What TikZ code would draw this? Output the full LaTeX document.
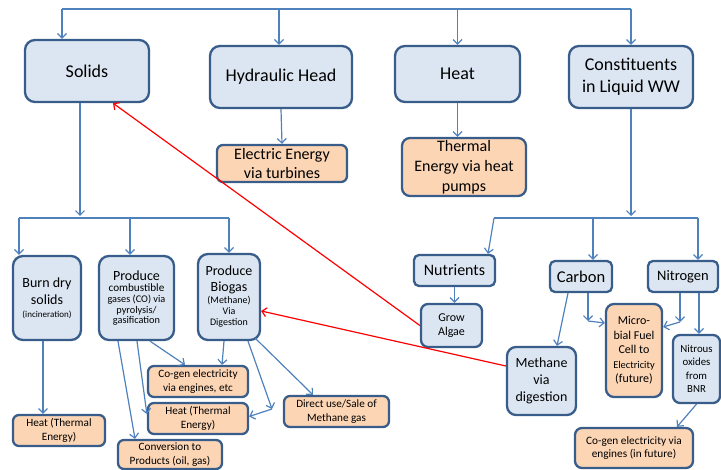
\documentclass[tikz,border=0pt]{standalone}
\usepackage{fontspec}
\setmainfont{Carlito}
\usetikzlibrary{arrows.meta}
\definecolor{boxline}{HTML}{385D8A}
\definecolor{bluefill}{HTML}{DCE6F2}
\definecolor{orangefill}{HTML}{FCD5B5}
\definecolor{connc}{HTML}{4F81BD}
\newcommand{\fs}[2]{\fontsize{#1}{#2}\selectfont}
\begin{document}
\begin{tikzpicture}[x=1pt,y=-1pt,
  basebox/.style={draw=boxline, line width=2.3pt, rounded corners=#1, align=center, inner sep=0pt, text=black},
  bluebox/.style={basebox=#1, fill=bluefill},
  bluebox/.default=10pt,
  orangebox/.style={basebox=#1, fill=orangefill},
  orangebox/.default=6pt,
  conn/.style={draw=connc, line width=1.2pt},
  arr/.style={conn, -{Straight Barb[length=4.5pt,width=9pt]}},
  redarr/.style={draw=red, line width=1.2pt, -{Straight Barb[length=4.5pt,width=9pt]}}]
\useasboundingbox (0,0) rectangle (721,470);

% top level
\node[bluebox, minimum width=124, minimum height=62, font=\fs{18}{22}] (solids) at (87,71) {Solids};
\node[bluebox, minimum width=142, minimum height=62, font=\fs{18}{22}] (hydraulic) at (281,77) {Hydraulic Head};
\node[bluebox, minimum width=125, minimum height=56, font=\fs{18}{22}] (heat) at (457.5,74) {Heat};
\node[bluebox, minimum width=124, minimum height=62, font=\fs{18}{22}] (constit) at (631,77) {Constituents\\in Liquid WW};

\node[orangebox, minimum width=130, minimum height=37, font=\fs{16}{18.5}] (electric) at (282,163.5) {Electric Energy\\via turbines};
\node[orangebox=8pt, minimum width=124, minimum height=58, font=\fs{16}{20}] (thermal) at (464,167) {Thermal\\Energy via heat\\pumps};

% solids branch
\node[bluebox, minimum width=68, minimum height=84, font=\fs{14}{17}] (burn) at (47,298) {Burn dry\\solids\\[-4pt]{\fs{9}{10}(incineration)}};
\node[bluebox, minimum width=75, minimum height=84, font=\fs{10.3}{10.6}] (combust) at (136.5,298) {{\fs{14}{16}Produce}\\[1pt]{\fs{11.2}{12}combustible}\\gases (CO) via\\pyrolysis/\\gasification};
\node[bluebox, minimum width=62, minimum height=86, font=\fs{10}{11}] (biogas) at (229,297) {{\fs{14}{16}Produce}\\[5pt]{\fs{14}{16}Biogas}\\[1pt](Methane)\\Via\\Digestion};

\node[orangebox, minimum width=92, minimum height=31, font=\fs{11.2}{13.5}] (heatL) at (59,430.5) {Heat (Thermal\\Energy)};
\node[orangebox, minimum width=100, minimum height=31, font=\fs{11.2}{13.5}] (cogen) at (198,381.5) {Co-gen electricity\\via engines, etc};
\node[orangebox, minimum width=100, minimum height=31, font=\fs{11.2}{13.5}] (heatM) at (198,418.5) {Heat (Thermal\\Energy)};
\node[orangebox, minimum width=104, minimum height=29, font=\fs{11.2}{13.5}] (conv) at (170,454.5) {Conversion to\\Products (oil, gas)};
\node[orangebox, minimum width=105, minimum height=31, font=\fs{11.2}{13.5}] (direct) at (336.5,411.5) {Direct use/Sale of\\Methane gas};

% liquid branch
\node[bluebox=5pt, minimum width=81, minimum height=31, font=\fs{16}{19}] (nutrients) at (454.5,270.5) {Nutrients};
\node[bluebox=7pt, minimum width=61, minimum height=43, font=\fs{12}{14.5}] (algae) at (451.5,325.5) {Grow\\Algae};
\node[bluebox=5pt, minimum width=62, minimum height=31, font=\fs{16.5}{19}] (carbon) at (581,276.5) {Carbon};
\node[bluebox=5pt, minimum width=70, minimum height=31, font=\fs{14.5}{17}] (nitrogen) at (683,276.5) {Nitrogen};
\node[orangebox=8pt, minimum width=56, minimum height=93, font=\fs{12}{14.5}] (microbial) at (634,350.5) {Micro-\\bial Fuel\\Cell to\\{\fs{10.4}{12}Electricity}\\(future)};
\node[bluebox=7pt, minimum width=47, minimum height=68, font=\fs{10.8}{13.5}] (nitrous) at (696.5,369) {Nitrous\\oxides\\from\\BNR};
\node[bluebox=9pt, minimum width=69, minimum height=68, font=\fs{14}{17}] (methane) at (541.5,381) {Methane\\via\\digestion};
\node[orangebox=7pt, minimum width=118, minimum height=40, font=\fs{11.3}{13.5}] (cogenF) at (634,448) {Co-gen electricity via\\engines (in future)};

% top bus
\coordinate (busL) at (62,9);
\coordinate (busR) at (631,9);
\draw[conn] (busL) -- (busR);
\draw[arr] (busL) -- (busL |- solids.north);
\draw[arr] ([xshift=-2pt]hydraulic.north |- busL) -- ([xshift=-2pt]hydraulic.north);
\draw[arr] (heat.north |- busL) -- (heat.north);
\draw[arr] (busR) -- (constit.north);

\draw[arr] (hydraulic.south) -- (electric.north);
\draw[arr] (heat.south) -- (heat.south |- thermal.north);

% solids bus
\coordinate (sbus) at (80,218);
\coordinate (sbL) at (19,218);
\coordinate (sbM) at (130,218);
\coordinate (sbR) at (229,218);
\draw[arr] (sbus |- solids.south) -- ([yshift=2pt]sbus);
\draw[conn] (sbL) -- (sbR);
\draw[arr] (sbL) -- (sbL |- burn.north);
\draw[arr] (sbM) -- (sbM |- combust.north);
\draw[arr] (sbR) -- (biogas.north);

\draw[arr] ([xshift=-4pt]burn.south) -- ([xshift=-4pt]burn.south |- heatL.north);
\draw[arr] ([xshift=13.5pt]combust.south) -- ([xshift=-13pt]cogen.north);
\draw[arr] ([xshift=-5pt]biogas.south) -- ([xshift=24pt]cogen.north);
\draw[arr] ([xshift=0.5pt]combust.south) -- ([yshift=4.5pt]heatM.west);
\draw[arr] ([xshift=-18.5pt]combust.south) -- ([xshift=-35pt]conv.north);
\coordinate (bcorner) at (272,409);
\draw[arr] ([xshift=19pt]biogas.south) -- (bcorner);
\draw[arr] (bcorner) -- ([yshift=2pt]heatM.east);
\draw[arr] ([xshift=-6pt,yshift=3pt]biogas.south east) -- ([xshift=-23.5pt]direct.north);

% liquid bus
\coordinate (cbus) at (631,218);
\coordinate (cbL) at (494,218);
\coordinate (cbM) at (593,218);
\coordinate (cbR) at (698,218);
\draw[arr] (constit.south) -- ([yshift=2pt]cbus);
\draw[conn] (cbL) -- (cbR);
\draw[arr] (cbL) -- ([xshift=33.5pt]nutrients.north);
\draw[arr] (cbM) -- (cbM |- carbon.north);
\draw[arr] (cbR) -- (cbR |- nitrogen.north);

\draw[arr] (nutrients.south) -- (nutrients.south |- algae.north);
\draw[arr] ([xshift=-13pt]carbon.south) -- ([xshift=15.5pt]methane.north);
\coordinate (ccorner) at (588,321);
\draw[arr] (ccorner |- carbon.south) -- (ccorner);
\draw[arr] (ccorner) -- ([yshift=27.5pt]microbial.west);
\coordinate (ncorner) at (680,322);
\draw[arr] (ncorner |- nitrogen.south) -- (ncorner);
\draw[arr] (ncorner) -- ([yshift=23.5pt]microbial.east);
\draw[arr] ([xshift=16pt]nitrogen.south) -- ([xshift=16pt]nitrogen.south |- nitrous.north);
\draw[arr] (nitrous.south) -- ([xshift=43pt]cogenF.north);

% red links
\draw[redarr] (algae.west) -- ([xshift=26pt]solids.south);
\draw[redarr] ([yshift=15pt]methane.west) -- ([yshift=-14pt]biogas.east);
\end{tikzpicture}
\end{document}
